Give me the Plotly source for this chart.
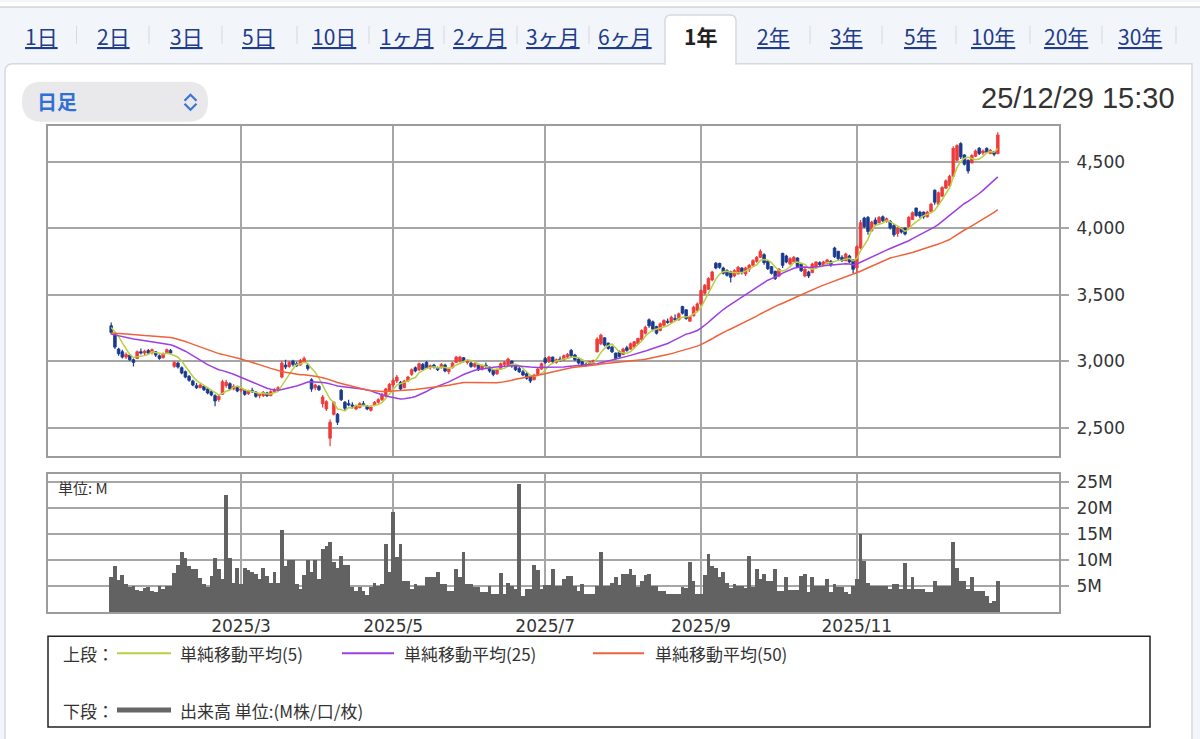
import pandas as pd
import plotly.graph_objects as go

W, H = 1200, 739

# ------------------------------------------------------------------ data
jp_holidays = ["2025-01-13", "2025-02-11", "2025-02-24", "2025-03-20", "2025-04-29",
               "2025-05-05", "2025-05-06", "2025-07-21", "2025-08-11", "2025-09-15",
               "2025-09-23", "2025-10-13", "2025-11-03", "2025-11-24"]
trade_dates = pd.bdate_range("2025-01-08", "2025-12-29", freq="C", holidays=jp_holidays)

opens = [
    3265, 3200, 3090, 3070, 3030, 3045, 3010, 3020, 3070, 3060,
    3080, 3065, 3070, 3040, 3025, 3060, 3080, 2960, 2985, 2950,
    2920, 2885, 2850, 2815, 2800, 2810, 2790, 2770, 2740, 2710,
    2750, 2815, 2830, 2790, 2800, 2780, 2780, 2755, 2780, 2765,
    2740, 2740, 2760, 2740, 2770, 2790, 2880, 2970, 2960, 3000,
    2980, 2970, 2995, 2970, 2860, 2800, 2810, 2680, 2640, 2420,
    2600, 2600, 2780, 2690, 2680, 2670, 2640, 2650, 2680, 2660,
    2630, 2670, 2690, 2710, 2740, 2780, 2820, 2850, 2840, 2800,
    2850, 2900, 2950, 2935, 2975, 2990, 2950, 2970, 2950, 2950,
    2970, 2920, 2950, 2990, 3000, 3025, 2990, 2985, 2960, 2970,
    2940, 2970, 2955, 2930, 2905, 2940, 2975, 2970, 3000, 2970,
    2945, 2920, 2905, 2880, 2860, 2900, 2940, 3020, 2995, 3030,
    2990, 3015, 3010, 3030, 3080, 3045, 3015, 2995, 2975, 2970,
    2990, 3070, 3130, 3175, 3135, 3105, 3060, 3070, 3050, 3100,
    3090, 3105, 3130, 3160, 3210, 3310, 3295, 3260, 3230, 3270,
    3300, 3290, 3320, 3310, 3410, 3385, 3300, 3340, 3380, 3430,
    3510, 3540, 3610, 3735, 3735, 3700, 3680, 3670, 3640, 3655,
    3700, 3655, 3690, 3720, 3750, 3780, 3800, 3750, 3710, 3675,
    3640, 3810, 3790, 3730, 3745, 3775, 3730, 3640, 3670, 3665,
    3705, 3740, 3720, 3735, 3750, 3850, 3825, 3780, 3755, 3790,
    3760, 3700, 3850, 4075, 4080, 3980, 4060, 4040, 4085, 4050,
    4050, 4020, 3960, 4000, 4000, 4010, 4065, 4150, 4120, 4120,
    4085, 4125, 4285, 4180, 4240, 4300, 4320, 4390, 4510, 4635,
    4550, 4510, 4490, 4540, 4600, 4565, 4600, 4560, 4575, 4560,
]
highs = [
    3290, 3210, 3100, 3085, 3065, 3050, 3020, 3080, 3095, 3085,
    3090, 3095, 3075, 3050, 3065, 3095, 3090, 3000, 2995, 2960,
    2930, 2895, 2860, 2835, 2830, 2815, 2800, 2780, 2750, 2750,
    2860, 2860, 2840, 2825, 2805, 2800, 2790, 2785, 2800, 2775,
    2760, 2775, 2770, 2780, 2795, 2810, 3000, 3010, 3000, 3010,
    2995, 3015, 3035, 2980, 2870, 2830, 2820, 2745, 2705, 2560,
    2700, 2610, 2790, 2700, 2710, 2690, 2670, 2690, 2700, 2670,
    2665, 2700, 2720, 2760, 2800, 2835, 2870, 2895, 2850, 2860,
    2890, 2945, 2960, 2990, 2985, 3000, 2975, 2980, 2960, 2985,
    2980, 2950, 2995, 3040, 3040, 3030, 3010, 2995, 2990, 2975,
    2975, 2990, 2960, 2940, 2945, 2990, 3000, 3025, 3005, 2975,
    2955, 2935, 2915, 2890, 2905, 2950, 2990, 3030, 3040, 3035,
    3020, 3035, 3050, 3060, 3090, 3055, 3025, 3000, 2990, 3000,
    3010, 3180, 3205, 3180, 3140, 3115, 3065, 3080, 3100, 3115,
    3140, 3150, 3175, 3240, 3265, 3320, 3305, 3265, 3290, 3315,
    3320, 3340, 3350, 3365, 3415, 3390, 3340, 3415, 3440, 3540,
    3580, 3630, 3680, 3745, 3740, 3710, 3690, 3680, 3690, 3715,
    3705, 3710, 3730, 3765, 3790, 3840, 3810, 3760, 3715, 3680,
    3700, 3815, 3800, 3780, 3790, 3780, 3740, 3700, 3680, 3740,
    3750, 3750, 3755, 3770, 3760, 3860, 3830, 3795, 3815, 3800,
    3765, 3870, 4060, 4085, 4090, 4055, 4080, 4090, 4095, 4080,
    4060, 4030, 4010, 4005, 4005, 4090, 4125, 4155, 4130, 4125,
    4130, 4190, 4290, 4275, 4315, 4365, 4400, 4615, 4630, 4645,
    4555, 4515, 4555, 4590, 4610, 4590, 4605, 4595, 4580, 4720,
]
lows = [
    3200, 3090, 3040, 3020, 3015, 3000, 2960, 3015, 3050, 3045,
    3050, 3050, 3030, 3010, 3020, 3055, 3050, 2950, 2945, 2900,
    2870, 2845, 2810, 2790, 2795, 2775, 2750, 2735, 2660, 2695,
    2745, 2800, 2780, 2780, 2765, 2765, 2740, 2745, 2760, 2725,
    2720, 2730, 2730, 2735, 2760, 2775, 2870, 2940, 2950, 2960,
    2955, 2965, 2985, 2930, 2770, 2780, 2775, 2650, 2625, 2360,
    2590, 2520, 2700, 2630, 2660, 2640, 2630, 2645, 2660, 2630,
    2620, 2660, 2680, 2700, 2730, 2770, 2805, 2835, 2775, 2795,
    2840, 2890, 2915, 2925, 2925, 2940, 2935, 2945, 2925, 2945,
    2915, 2900, 2945, 2985, 2990, 2990, 2975, 2950, 2950, 2925,
    2930, 2950, 2912, 2885, 2895, 2935, 2960, 2960, 2950, 2925,
    2910, 2885, 2860, 2835, 2855, 2895, 2935, 2980, 2985, 2980,
    2980, 2995, 3000, 3015, 3030, 3000, 2975, 2960, 2960, 2965,
    2980, 3065, 3120, 3110, 3085, 3060, 3010, 3025, 3045, 3070,
    3085, 3095, 3120, 3150, 3200, 3250, 3225, 3200, 3225, 3260,
    3280, 3285, 3300, 3305, 3350, 3310, 3295, 3335, 3370, 3420,
    3500, 3535, 3600, 3690, 3695, 3650, 3635, 3590, 3630, 3650,
    3650, 3640, 3670, 3715, 3740, 3775, 3725, 3685, 3650, 3610,
    3630, 3700, 3735, 3720, 3740, 3700, 3670, 3630, 3625, 3660,
    3700, 3715, 3715, 3725, 3710, 3775, 3760, 3745, 3750, 3735,
    3660, 3670, 3840, 4000, 3950, 3970, 4020, 4035, 4045, 4040,
    3990, 3935, 3935, 3960, 3945, 4005, 4060, 4085, 4075, 4070,
    4080, 4120, 4175, 4170, 4235, 4295, 4310, 4385, 4500, 4520,
    4470, 4410, 4485, 4535, 4550, 4550, 4560, 4555, 4540, 4555,
]
closes = [
    3215, 3105, 3055, 3030, 3050, 3010, 2990, 3070, 3060, 3075,
    3060, 3085, 3045, 3020, 3055, 3085, 3060, 2990, 2955, 2910,
    2880, 2855, 2820, 2800, 2820, 2785, 2760, 2745, 2700, 2735,
    2845, 2840, 2790, 2810, 2775, 2790, 2750, 2775, 2770, 2735,
    2750, 2765, 2740, 2770, 2785, 2800, 2985, 2955, 2990, 2975,
    2965, 3005, 3020, 2945, 2790, 2820, 2785, 2730, 2695, 2540,
    2690, 2540, 2710, 2645, 2670, 2660, 2660, 2680, 2670, 2640,
    2655, 2690, 2710, 2745, 2790, 2825, 2855, 2880, 2790, 2850,
    2880, 2935, 2925, 2980, 2935, 2950, 2965, 2955, 2935, 2975,
    2925, 2940, 2985, 3030, 3030, 3000, 3005, 2960, 2980, 2935,
    2965, 2960, 2925, 2900, 2935, 2980, 2990, 3015, 2965, 2935,
    2920, 2895, 2870, 2850, 2895, 2940, 2980, 2990, 3030, 2995,
    3010, 3005, 3040, 3050, 3040, 3010, 2985, 2970, 2965, 2995,
    3005, 3165, 3195, 3120, 3095, 3070, 3020, 3035, 3090, 3080,
    3130, 3145, 3170, 3230, 3255, 3265, 3240, 3210, 3280, 3305,
    3290, 3330, 3310, 3355, 3360, 3320, 3335, 3405, 3430, 3530,
    3570, 3620, 3670, 3700, 3705, 3660, 3645, 3630, 3680, 3705,
    3665, 3700, 3720, 3755, 3780, 3825, 3740, 3695, 3660, 3620,
    3690, 3720, 3745, 3770, 3780, 3710, 3680, 3690, 3640, 3730,
    3745, 3725, 3745, 3760, 3725, 3785, 3770, 3755, 3805, 3745,
    3690, 3860, 4040, 4010, 3975, 4045, 4030, 4080, 4055, 4070,
    4000, 3950, 4000, 3970, 3955, 4080, 4115, 4095, 4090, 4085,
    4120, 4180, 4195, 4265, 4305, 4355, 4390, 4600, 4620, 4535,
    4480, 4430, 4545, 4580, 4560, 4580, 4570, 4585, 4555, 4700,
]
# estimated closes of the 49 sessions before the window (needed for the MA lines)
prior_closes = [
    3120, 3140, 3160, 3150, 3130, 3170, 3180, 3160, 3150, 3140,
    3170, 3190, 3160, 3150, 3170, 3180, 3250, 3300, 3340, 3360,
    3350, 3330, 3320, 3350, 3340, 3280, 3220, 3190, 3170, 3150,
    3140, 3160, 3170, 3150, 3130, 3150, 3170, 3180, 3190, 3200,
    3210, 3220, 3240, 3230, 3250, 3260, 3240, 3270, 3280,
]
volumes_m = [
    6.7, 8.8, 6.2, 7.1, 5.4, 4.8, 5.0, 4.3, 4.1, 4.6,
    4.8, 4.1, 3.9, 5.0, 4.5, 5.1, 5.1, 7.6, 9.0, 11.5,
    10.4, 8.8, 8.2, 8.2, 6.5, 5.5, 4.8, 7.0, 10.4, 8.3,
    6.4, 22.4, 10.4, 5.7, 8.4, 5.4, 8.4, 8.0, 7.8, 7.3,
    6.4, 8.4, 7.0, 5.7, 7.8, 5.7, 15.8, 8.8, 10.1, 10.1,
    5.4, 4.5, 7.1, 10.1, 7.8, 10.1, 6.4, 12.1, 12.7, 13.5,
    9.6, 8.4, 10.8, 9.0, 9.0, 4.8, 4.1, 4.8, 4.1, 3.3,
    4.8, 5.7, 5.1, 5.4, 13.1, 7.8, 19.1, 10.5, 13.1, 6.0,
    6.0, 4.5, 5.4, 5.1, 5.1, 6.7, 6.7, 6.7, 7.8, 5.4,
    5.4, 4.1, 4.1, 8.2, 6.7, 11.5, 5.4, 5.4, 4.8, 4.8,
    3.8, 3.8, 5.0, 3.5, 3.5, 7.5, 3.5, 5.7, 5.0, 4.5,
    24.5, 3.2, 4.5, 4.5, 9.0, 8.0, 4.5, 5.2, 5.2, 8.2,
    5.0, 5.0, 6.4, 7.0, 7.0, 5.0, 4.1, 5.4, 3.5, 3.5,
    3.5, 5.0, 11.5, 5.0, 5.0, 5.7, 6.7, 5.2, 7.3, 7.3,
    8.2, 7.1, 4.8, 6.0, 7.1, 7.3, 5.0, 5.0, 4.1, 4.1,
    3.5, 3.5, 3.5, 3.5, 4.8, 4.6, 9.6, 6.0, 3.5, 3.5,
    7.1, 11.1, 8.8, 8.4, 6.7, 7.8, 5.7, 4.6, 5.4, 5.0,
    5.0, 4.6, 10.7, 4.8, 8.2, 6.4, 7.3, 6.0, 6.0, 8.2,
    4.1, 4.1, 6.7, 4.3, 4.3, 4.3, 7.0, 7.3, 3.8, 6.7,
    5.1, 5.1, 5.0, 6.4, 3.8, 5.4, 4.8, 4.8, 3.8, 3.5,
    5.0, 6.4, 15.0, 9.9, 5.7, 5.1, 5.0, 5.0, 5.0, 5.0,
    4.5, 5.4, 5.4, 4.5, 9.4, 4.5, 6.7, 4.5, 4.5, 4.5,
    3.8, 3.8, 6.0, 5.0, 5.1, 5.0, 5.0, 13.5, 8.4, 6.0,
    6.0, 4.5, 6.7, 4.1, 4.1, 4.0, 3.2, 1.8, 2.2, 6.0,
]
price_ticks = [2500, 3000, 3500, 4000, 4500]
volume_ticks = [5, 10, 15, 20, 25]
volume_tick_text = ["5M", "10M", "15M", "20M", "25M"]
label_months = [3, 5, 7, 9, 11]
ma_windows = [5, 25, 50]

tabs = ["1日", "2日", "3日", "5日", "10日", "1ヶ月", "2ヶ月", "3ヶ月", "6ヶ月",
        "1年", "2年", "3年", "5年", "10年", "20年", "30年"]
selected_tab = "1年"
timestamp_text = "25/12/29 15:30"
period_text = "日足"
legend_names = ["単純移動平均(5)", "単純移動平均(25)", "単純移動平均(50)"]
volume_legend = "出来高 単位:(M株/口/枚)"

# ------------------------------------------------------------------ derived
n = len(closes)
idx = list(range(n))
all_close = pd.Series(prior_closes + closes, dtype=float)
mas = [all_close.rolling(w).mean().iloc[len(prior_closes):].tolist() for w in ma_windows]

dates = pd.Series(trade_dates[:n])
month_pos, month_txt = [], []
for m in label_months:
    hit = dates[dates.dt.month == m]
    month_pos.append(int(hit.index[0]))
    month_txt.append(f"2025/{m}")

# ------------------------------------------------------------------ styling
UP = "#f03a3a"
DN = "#1b3a8e"
MA_COLORS = ["#b6d042", "#9c3fe4", "#ef623a"]
VOL = "#626262"
GRID = "#a6a6a6"
FRAME = "#9c9c9c"
TXT = "#333333"
CJK = "Noto Sans CJK JP"
NUM = "DejaVu Sans"

def X(p):
    return p / W

def Y(p):
    return 1 - p / H

PX_LEFT, PX_RIGHT = 47.5, 1059.0
BAR0_PX, BAR_STEP = 111.2, 3.7096
x_lo = (PX_LEFT - BAR0_PX) / BAR_STEP
x_hi = (PX_RIGHT - BAR0_PX) / BAR_STEP

# candles: bodies as bars (base = lower of open/close), wicks as line segments
is_up = [c >= o for o, c in zip(opens, closes)]
body_base = [min(o, c) for o, c in zip(opens, closes)]
body_len = [abs(c - o) for o, c in zip(opens, closes)]
body_col = [UP if u else DN for u in is_up]

fig = go.Figure()
for want, col in ((True, UP), (False, DN)):
    wx, wy = [], []
    for i in idx:
        if is_up[i] == want:
            wx += [i, i, None]
            wy += [lows[i], highs[i], None]
    fig.add_trace(go.Scatter(x=wx, y=wy, mode="lines", line=dict(color=col, width=1.2),
                             showlegend=False, hoverinfo="skip", xaxis="x", yaxis="y"))
fig.add_trace(go.Bar(x=idx, y=body_len, base=body_base, width=0.72,
                     marker=dict(color=body_col, line=dict(color=body_col, width=0.8)),
                     showlegend=False, hoverinfo="skip", xaxis="x", yaxis="y"))
for ma, col in zip(mas, MA_COLORS):
    fig.add_trace(go.Scatter(x=idx, y=ma, mode="lines", line=dict(color=col, width=1.5),
                             showlegend=False, hoverinfo="skip", xaxis="x", yaxis="y"))
fig.add_trace(go.Bar(x=idx, y=volumes_m, width=1.0, marker=dict(color=VOL, line=dict(width=0)),
                     showlegend=False, hoverinfo="skip", xaxis="x2", yaxis="y2"))

axis_common = dict(showline=True, mirror=True, linecolor=FRAME, linewidth=2,
                   showgrid=True, gridcolor=GRID, gridwidth=2, zeroline=False, fixedrange=True)

shapes = []
shapes.append(dict(type="rect", xref="paper", yref="paper", x0=0, x1=1, y0=Y(5), y1=1,
                   fillcolor="#ffffff", line=dict(width=0), layer="below"))
shapes.append(dict(type="line", xref="paper", yref="paper", x0=0, x1=1, y0=Y(5), y1=Y(5),
                   line=dict(color="#cfd3da", width=1.5), layer="below"))

def path(points_cmds):
    out = []
    for c in points_cmds:
        if isinstance(c, str):
            out.append(c)
        else:
            out.append(f"{X(c[0]):.5f},{Y(c[1]):.5f}")
    return " ".join(out)

panel = path(["M", (5, 739), "L", (5, 70), "Q", (5, 62), (13, 62), "L", (1192, 62), "L", (1192, 739)])
shapes.append(dict(type="path", xref="paper", yref="paper", path=panel, fillcolor="#ffffff",
                   line=dict(color="#d6d9df", width=1.5), layer="below"))
tab = path(["M", (665, 63), "L", (665, 19), "Q", (665, 13), (671, 13), "L", (730, 13),
            "Q", (736, 13), (736, 19), "L", (736, 63)])
shapes.append(dict(type="path", xref="paper", yref="paper", path=tab, fillcolor="#ffffff",
                   line=dict(color="#d6d9df", width=1.5), layer="below"))
shapes.append(dict(type="line", xref="paper", yref="paper", x0=X(666), x1=X(735), y0=Y(62), y1=Y(62),
                   line=dict(color="#ffffff", width=3), layer="below"))
for sx in [76.5, 149, 222, 297, 369, 444, 517, 589, 810, 882, 956, 1030, 1102, 1176]:
    shapes.append(dict(type="line", xref="paper", yref="paper", x0=X(sx), x1=X(sx), y0=Y(24), y1=Y(42),
                       line=dict(color="#d5d9e0", width=1), layer="below"))
pill = path(["M", (42, 80), "L", (188, 80), "Q", (208, 80), (208, 100), "Q", (208, 120), (188, 120),
             "L", (42, 120), "Q", (22, 120), (22, 100), "Q", (22, 80), (42, 80), "Z"])
shapes.append(dict(type="path", xref="paper", yref="paper", path=pill, fillcolor="#e9e9eb",
                   line=dict(width=0), layer="below"))
chev_up = path(["M", (184.5, 99), "L", (190.5, 93), "L", (196.5, 99)])
chev_dn = path(["M", (184.5, 102), "L", (190.5, 108), "L", (196.5, 102)])
for c in (chev_up, chev_dn):
    shapes.append(dict(type="path", xref="paper", yref="paper", path=c,
                       line=dict(color="#3a74d6", width=2.2), layer="above"))
shapes.append(dict(type="rect", xref="paper", yref="paper", x0=X(48), x1=X(1150), y0=Y(727), y1=Y(636),
                   line=dict(color="#222222", width=1.5), fillcolor="rgba(0,0,0,0)", layer="above"))
for (x0, x1), col in zip([(117, 171), (342, 394), (593, 644)], MA_COLORS):
    shapes.append(dict(type="line", xref="paper", yref="paper", x0=X(x0), x1=X(x1), y0=Y(653), y1=Y(653),
                       line=dict(color=col, width=2), layer="above"))
shapes.append(dict(type="line", xref="paper", yref="paper", x0=X(117), x1=X(171), y0=Y(710), y1=Y(710),
                   line=dict(color="#666666", width=5), layer="above"))

ann = []
tab_centers = [41, 113, 186, 258.5, 334, 406.5, 479.5, 553, 625, 700, 773, 846, 920.5, 993, 1066, 1139.5]
for lab, cx in zip(tabs, tab_centers):
    if lab == selected_tab:
        txt, col = f"<b>{lab}</b>", "#222222"
    else:
        txt, col = f"<span style='text-decoration:underline'>{lab}</span>", "#1f3c8c"
    ann.append(dict(x=X(cx), y=Y(34), xref="paper", yref="paper", text=txt, showarrow=False,
                    xanchor="center", yanchor="middle", font=dict(family=CJK, size=21, color=col)))
ann.append(dict(x=X(1177), y=Y(96), xref="paper", yref="paper", text=timestamp_text, showarrow=False,
                xanchor="right", yanchor="middle", font=dict(family="Liberation Sans", size=29, color=TXT)))
ann.append(dict(x=X(35), y=Y(100), xref="paper", yref="paper", text=f"<b>{period_text}</b>", showarrow=False,
                xanchor="left", yanchor="middle", font=dict(family=CJK, size=20, color="#3070d6")))
ann.append(dict(x=X(56), y=Y(487), xref="paper", yref="paper", text="単位: M", showarrow=False,
                xanchor="left", yanchor="middle", font=dict(family=CJK, size=15, color=TXT)))
ann.append(dict(x=X(61), y=Y(653), xref="paper", yref="paper", text="上段：", showarrow=False,
                xanchor="left", yanchor="middle", font=dict(family=CJK, size=17, color=TXT)))
ann.append(dict(x=X(61), y=Y(710), xref="paper", yref="paper", text="下段：", showarrow=False,
                xanchor="left", yanchor="middle", font=dict(family=CJK, size=17, color=TXT)))
for name, lx in zip(legend_names, [178, 402, 653]):
    ann.append(dict(x=X(lx), y=Y(653), xref="paper", yref="paper", text=name, showarrow=False,
                    xanchor="left", yanchor="middle", font=dict(family=CJK, size=17, color=TXT)))
ann.append(dict(x=X(178), y=Y(710), xref="paper", yref="paper", text=volume_legend, showarrow=False,
                xanchor="left", yanchor="middle", font=dict(family=CJK, size=17, color=TXT)))

fig.update_layout(
    width=W, height=H, margin=dict(l=0, r=0, t=0, b=0),
    paper_bgcolor="#f2f5fa", plot_bgcolor="#ffffff",
    showlegend=False, bargap=0, barmode="overlay",
    xaxis=dict(domain=[X(PX_LEFT), X(PX_RIGHT)], range=[x_lo, x_hi], anchor="y",
               tickmode="array", tickvals=month_pos, showticklabels=False, ticks="", **axis_common),
    yaxis=dict(domain=[Y(455), Y(124)], range=[2288, 4770], anchor="x", side="right",
               tickmode="array", tickvals=price_ticks, tickformat=",d",
               ticks="outside", ticklen=8, tickwidth=2, tickcolor=GRID, ticklabelstandoff=4,
               tickfont=dict(family=NUM, size=17, color=TXT), **axis_common),
    xaxis2=dict(domain=[X(PX_LEFT), X(PX_RIGHT)], range=[x_lo, x_hi], anchor="y2",
                tickmode="array", tickvals=month_pos, ticktext=month_txt, ticks="",
                ticklabelstandoff=-3,
                tickfont=dict(family=NUM, size=17, color=TXT), **axis_common),
    yaxis2=dict(domain=[Y(612), Y(473)], range=[0, 26.5], anchor="x2", side="right",
                tickmode="array", tickvals=volume_ticks, ticktext=volume_tick_text,
                ticks="outside", ticklen=8, tickwidth=2, tickcolor=GRID, ticklabelstandoff=4,
                tickfont=dict(family=NUM, size=17, color=TXT), **axis_common),
    shapes=shapes, annotations=ann,
)

fig.write_html("out.html", config={"displayModeBar": False, "staticPlot": True},
               post_script="document.body.style.margin='0';document.body.style.overflow='hidden';")
